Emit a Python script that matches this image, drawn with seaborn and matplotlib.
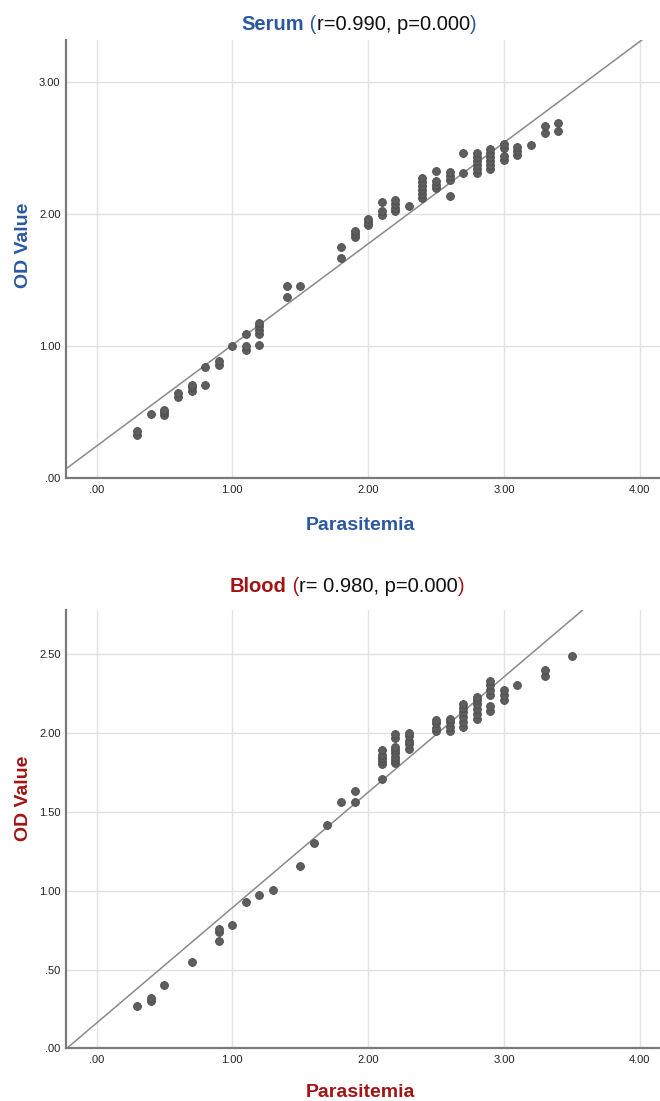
import numpy as np
import pandas as pd
import matplotlib
matplotlib.use("Agg")
import matplotlib.pyplot as plt
import seaborn as sns

# ---------------- data ----------------
SERUM_X = [0.3, 0.3, 0.4, 0.5, 0.5, 0.5, 0.6, 0.6, 0.7, 0.7, 0.7, 0.8, 0.8,
           0.9, 0.9, 1.0, 1.1, 1.1, 1.1, 1.2, 1.2, 1.2, 1.2, 1.2, 1.4, 1.4, 1.5,
           1.8, 1.8, 1.9, 1.9, 1.9, 2.0, 2.0, 2.0, 2.1, 2.1, 2.1,
           2.2, 2.2, 2.2, 2.2, 2.3,
           2.4, 2.4, 2.4, 2.4, 2.4, 2.4, 2.5, 2.5, 2.5, 2.5,
           2.6, 2.6, 2.6, 2.6, 2.7, 2.7,
           2.8, 2.8, 2.8, 2.8, 2.8, 2.8, 2.9, 2.9, 2.9, 2.9, 2.9, 2.9,
           3.0, 3.0, 3.0, 3.0, 3.1, 3.1, 3.1, 3.2, 3.3, 3.3, 3.4, 3.4]
SERUM_Y = [0.33, 0.36, 0.49, 0.48, 0.50, 0.52, 0.62, 0.65, 0.66, 0.69, 0.71, 0.84, 0.71,
           0.86, 0.89, 1.00, 1.09, 0.97, 1.00, 1.09, 1.12, 1.15, 1.18, 1.01, 1.46, 1.37, 1.46,
           1.755, 1.67, 1.83, 1.85, 1.87, 1.92, 1.94, 1.96, 2.095, 1.99, 2.02,
           2.02, 2.05, 2.08, 2.11, 2.06,
           2.12, 2.15, 2.18, 2.21, 2.24, 2.27, 2.33, 2.20, 2.22, 2.25,
           2.26, 2.29, 2.32, 2.14, 2.46, 2.31,
           2.31, 2.34, 2.37, 2.40, 2.43, 2.46, 2.34, 2.37, 2.40, 2.43, 2.46, 2.49,
           2.41, 2.44, 2.50, 2.53, 2.45, 2.48, 2.51, 2.525, 2.61, 2.67, 2.63, 2.69]

BLOOD_X = [0.3, 0.4, 0.4, 0.5, 0.7, 0.9, 0.9, 0.9, 1.0, 1.1, 1.2, 1.3, 1.5, 1.6,
           1.7, 1.8, 1.9, 1.9,
           2.1, 2.1, 2.1, 2.1, 2.1, 2.1,
           2.2, 2.2, 2.2, 2.2, 2.2, 2.2, 2.2, 2.2,
           2.3, 2.3, 2.3, 2.3, 2.3,
           2.5, 2.5, 2.5, 2.5, 2.6, 2.6, 2.6, 2.6,
           2.7, 2.7, 2.7, 2.7, 2.7, 2.7, 2.8, 2.8, 2.8, 2.8, 2.8, 2.8,
           2.9, 2.9, 2.9, 2.9, 2.9, 2.9, 3.0, 3.0, 3.0, 3.1, 3.3, 3.3, 3.5]
BLOOD_Y = [0.27, 0.30, 0.32, 0.40, 0.55, 0.74, 0.76, 0.68, 0.78, 0.93, 0.97, 1.005, 1.157, 1.30,
           1.415, 1.56, 1.56, 1.63,
           1.706, 1.80, 1.82, 1.84, 1.86, 1.89,
           1.97, 1.995, 1.81, 1.83, 1.85, 1.87, 1.89, 1.91,
           1.90, 1.93, 1.95, 1.98, 2.00,
           2.01, 2.03, 2.06, 2.08, 2.01, 2.04, 2.07, 2.09,
           2.04, 2.07, 2.10, 2.13, 2.16, 2.18, 2.09, 2.12, 2.15, 2.18, 2.21, 2.23,
           2.24, 2.27, 2.30, 2.33, 2.14, 2.17, 2.21, 2.24, 2.27, 2.305, 2.36, 2.40, 2.486]

# fit lines (intercept, slope) as drawn in the reference
SERUM_FIT = (0.245, 0.765)
BLOOD_FIT = (0.161, 0.731)

X_TICKS = [0, 1, 2, 3, 4]
X_TICK_LABELS = [".00", "1.00", "2.00", "3.00", "4.00"]
SERUM_Y_TICKS = [0, 1, 2, 3]
SERUM_Y_TICK_LABELS = [".00", "1.00", "2.00", "3.00"]
BLOOD_Y_TICKS = [0, 0.5, 1.0, 1.5, 2.0, 2.5]
BLOOD_Y_TICK_LABELS = [".00", ".50", "1.00", "1.50", "2.00", "2.50"]

SERUM_TITLE = ["Serum", " (", "r=0.990, p=0.000", ")"]
BLOOD_TITLE = ["Blood", " (", "r= 0.980, p=0.000", ")"]
X_LABEL = "Parasitemia"
Y_LABEL = "OD Value"

BLUE = "#2b58a0"
RED = "#a01414"

# ---------------- style ----------------
sns.set_theme(style="white")
plt.rcParams["font.family"] = ["Liberation Sans", "DejaVu Sans"]

fig = plt.figure(figsize=(6.6, 11.01), dpi=100)
fig.patch.set_facecolor("white")

ax_top = fig.add_axes([0.1, 0.5654, 0.9, 0.3986])
ax_bot = fig.add_axes([0.1, 0.0477, 0.9, 0.3985])


def draw_panel(ax, xs, ys, fit, yticks, ylabels, ylim, color, ylab_y, xlab_y):
    df = pd.DataFrame({"Parasitemia": xs, "OD": ys})
    ax.grid(True, color="#e2e2e2", lw=1.0, zorder=0)
    ax.set_axisbelow(True)
    ax.axline((0, fit[0]), slope=fit[1], color="#8a8a8a", lw=1.1, zorder=2)
    sns.scatterplot(data=df, x="Parasitemia", y="OD", ax=ax, color="#5e5e5e",
                    edgecolor="#4c4c4c", linewidth=0.6, s=32, zorder=3, legend=False)
    ax.set_xlim(-0.225, 4.15)
    ax.set_ylim(*ylim)
    ax.set_xticks(X_TICKS)
    ax.set_xticklabels(X_TICK_LABELS)
    ax.set_yticks(yticks)
    ax.set_yticklabels(ylabels)
    ax.tick_params(axis="both", length=0, labelsize=8, colors="#222222")
    ax.tick_params(axis="x", pad=4.5)
    ax.tick_params(axis="y", pad=4)
    for s in ["top", "right"]:
        ax.spines[s].set_visible(False)
    for s in ["left", "bottom"]:
        ax.spines[s].set_color("#7a7a7a")
        ax.spines[s].set_linewidth(1.6)
    ax.set_xlabel(X_LABEL, fontsize=14, fontweight="bold", color=color, va="center")
    ax.set_ylabel(Y_LABEL, fontsize=14, fontweight="bold", color=color, va="center")
    ax.xaxis.set_label_coords(0.495, xlab_y)
    ax.yaxis.set_label_coords(-0.072, ylab_y)


draw_panel(ax_top, SERUM_X, SERUM_Y, SERUM_FIT, SERUM_Y_TICKS, SERUM_Y_TICK_LABELS,
           (0, 3.32), BLUE, 0.532, -0.108)
draw_panel(ax_bot, BLOOD_X, BLOOD_Y, BLOOD_FIT, BLOOD_Y_TICKS, BLOOD_Y_TICK_LABELS,
           (0, 2.78), RED, 0.571, -0.101)


def multicolor_title(parts, colors, weights, cx, y):
    texts = [fig.text(0, y, p, color=c, fontweight=w, fontsize=14.5,
                      ha="left", va="baseline")
             for p, c, w in zip(parts, colors, weights)]
    fig.canvas.draw()
    r = fig.canvas.get_renderer()
    widths = [t.get_window_extent(r).width / fig.bbox.width for t in texts]
    x = cx - sum(widths) / 2
    for t, w in zip(texts, widths):
        t.set_x(x)
        x += w


multicolor_title(SERUM_TITLE, [BLUE, BLUE, "#111111", BLUE],
                 ["bold", "normal", "normal", "normal"], 0.544, 0.9728)
multicolor_title(BLOOD_TITLE, [RED, RED, "#111111", RED],
                 ["bold", "normal", "normal", "normal"], 0.526, 0.4626)

fig.savefig("out.png", dpi=100, facecolor="white")
